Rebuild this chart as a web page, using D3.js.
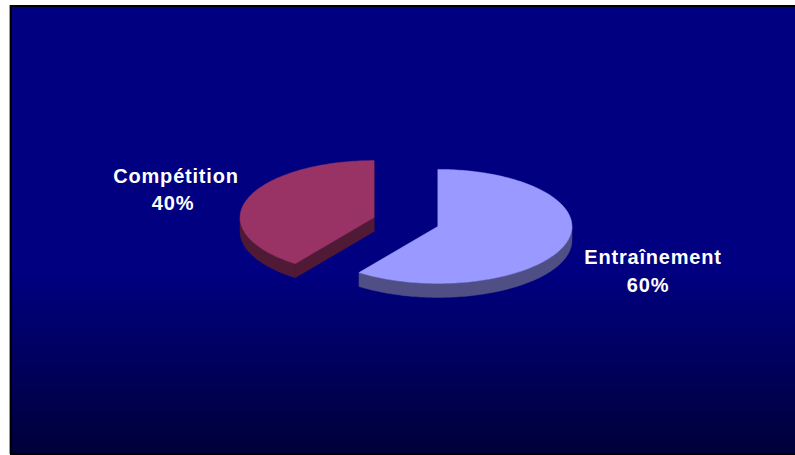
<!DOCTYPE html>
<html>
<head>
<meta charset="utf-8">
<script src="https://cdn.jsdelivr.net/npm/d3@7/dist/d3.min.js"></script>
<style>
  html, body { margin: 0; padding: 0; background: #ffffff; }
  svg { display: block; }
</style>
</head>
<body>
<svg id="chart" width="795" height="455"></svg>
<script>
// ---- data ----
const categories = ["Entraînement", "Compétition"];
const values = [60, 40];
const percentLabels = ["60%", "40%"];
const topColors = ["#9999FF", "#993366"];
const sideColors = ["#4F4F86", "#501A37"];

// ---- layout ----
const W = 795, H = 455;
const svg = d3.select("#chart");
const defs = svg.append("defs");
const grad = defs.append("linearGradient")
  .attr("id", "bg").attr("x1", 0).attr("y1", 0).attr("x2", 0).attr("y2", 1);
grad.append("stop").attr("offset", "0").attr("stop-color", "#000080");
grad.append("stop").attr("offset", "0.6").attr("stop-color", "#000080");
grad.append("stop").attr("offset", "1").attr("stop-color", "#00003A");

// frame
svg.append("rect").attr("x", 9).attr("y", 5).attr("width", 1).attr("height", 449).attr("fill", "#9a9a9a");
svg.append("rect").attr("x", 10).attr("y", 5).attr("width", W - 10).attr("height", 450).attr("fill", "#000000");
svg.append("rect").attr("x", 12).attr("y", 7).attr("width", W - 12).attr("height", 446).attr("fill", "url(#bg)");

// pie geometry (3D tilted)
const cx = 406, cy = 222, rx = 134, ry = 57, depth = 14, explode = 33.6;
const tilt = ry / rx;

const pie = d3.pie().sort(null).value(d => d)(values);

function pt(c, a, dz) {
  return [c[0] + rx * Math.sin(a), c[1] - ry * Math.cos(a) + (dz || 0)];
}
function arcPts(c, a0, a1, dz) {
  const n = Math.max(2, Math.ceil((a1 - a0) / 0.02));
  const out = [];
  for (let i = 0; i <= n; i++) out.push(pt(c, a0 + (a1 - a0) * i / n, dz));
  return out;
}
const line = d3.line();

const slices = pie.map((p, i) => {
  const m = (p.startAngle + p.endAngle) / 2;
  const c = [cx + explode * Math.sin(m), cy - explode * Math.cos(m) * tilt];
  return { p, i, c };
});

const g = svg.append("g");

// radial cut faces
slices.forEach(s => {
  [s.p.startAngle, s.p.endAngle].forEach(a => {
    const e = pt(s.c, a);
    const poly = [s.c, e, [e[0], e[1] + depth], [s.c[0], s.c[1] + depth]];
    g.append("path").attr("d", line(poly) + "Z")
      .attr("fill", sideColors[s.i]).attr("stroke", sideColors[s.i]).attr("stroke-width", 0.5);
  });
});

// curved outer sides (front half only: angles between PI/2 and 3PI/2)
slices.forEach(s => {
  const a0 = Math.max(s.p.startAngle, Math.PI / 2);
  const a1 = Math.min(s.p.endAngle, 3 * Math.PI / 2);
  if (a1 > a0) {
    const top = arcPts(s.c, a0, a1, 0);
    const bot = arcPts(s.c, a0, a1, depth).reverse();
    g.append("path").attr("d", line(top.concat(bot)) + "Z")
      .attr("fill", sideColors[s.i]).attr("stroke", sideColors[s.i]).attr("stroke-width", 0.5);
  }
});

// top faces
slices.forEach(s => {
  const poly = [s.c].concat(arcPts(s.c, s.p.startAngle, s.p.endAngle, 0));
  g.append("path").attr("d", line(poly) + "Z")
    .attr("fill", topColors[s.i]).attr("stroke", topColors[s.i]).attr("stroke-width", 0.5);
});

// labels
const labelPos = [[653, 264], [176, 183]];
const pctPos = [[648, 292], [173, 210]];
const lg = svg.append("g")
  .attr("font-family", "Liberation Sans, Arial, sans-serif")
  .attr("font-weight", "bold").attr("font-size", 20)
  .attr("fill", "#ffffff").attr("text-anchor", "middle")
  .style("letter-spacing", "0.8px");
categories.forEach((name, i) => {
  lg.append("text").attr("x", labelPos[i][0]).attr("y", labelPos[i][1]).text(name);
  lg.append("text").attr("x", pctPos[i][0]).attr("y", pctPos[i][1]).text(percentLabels[i]);
});
</script>
</body>
</html>
